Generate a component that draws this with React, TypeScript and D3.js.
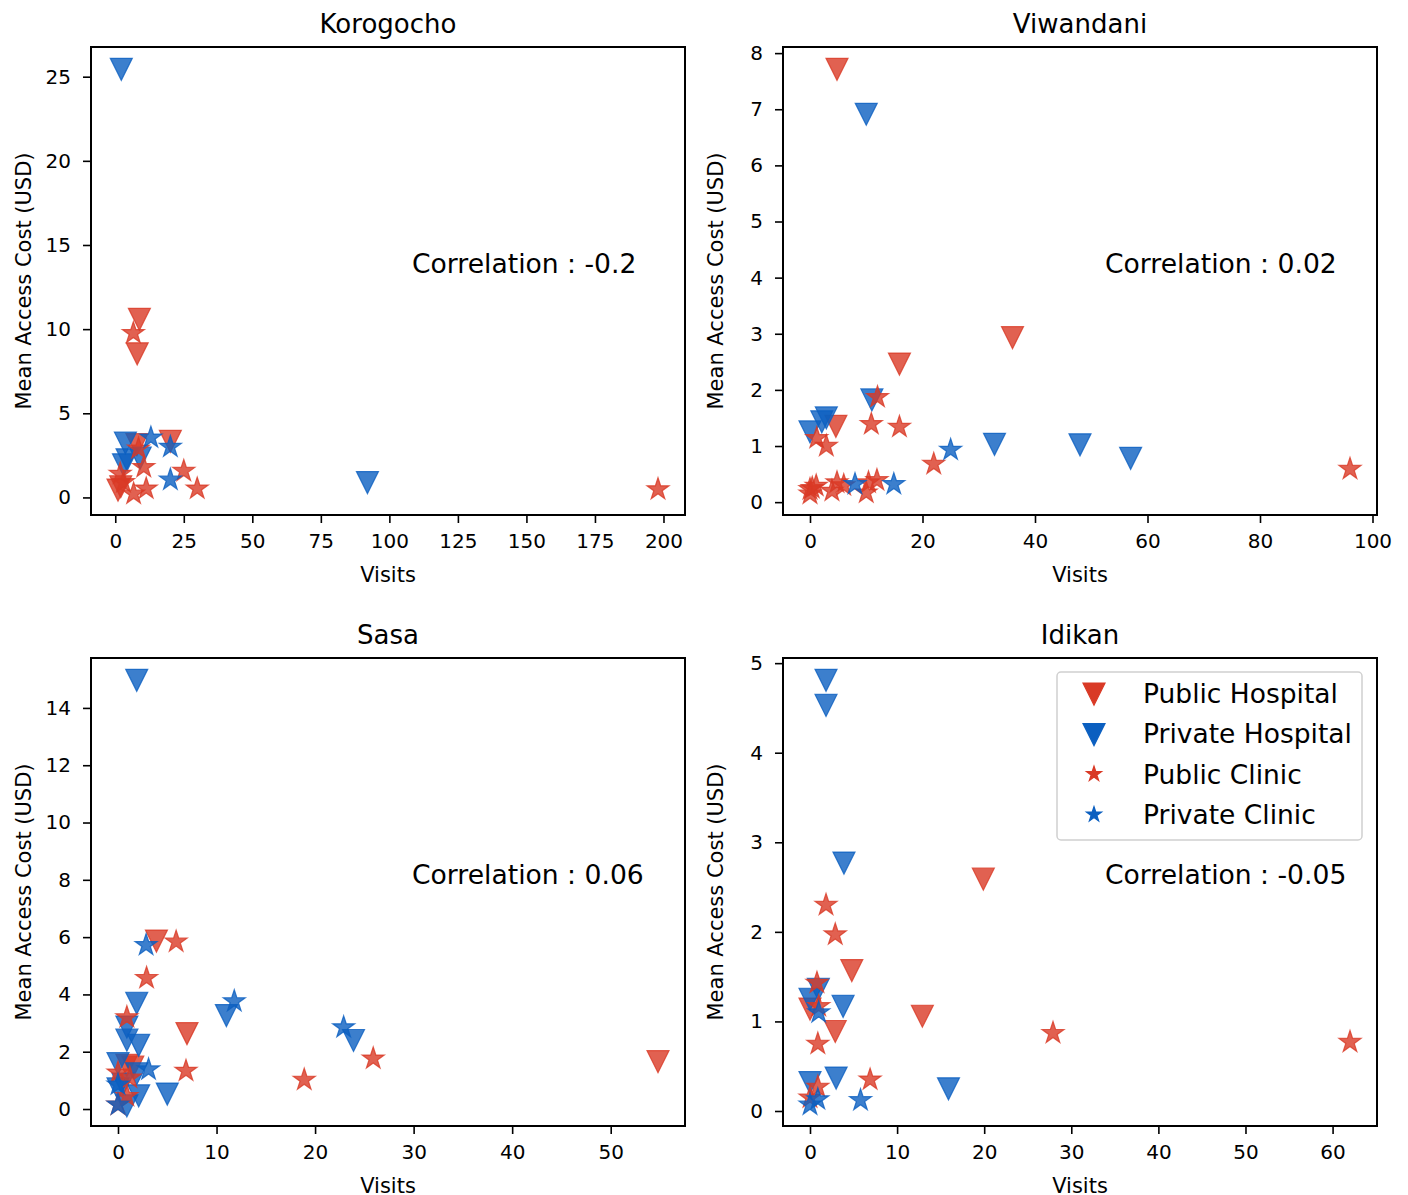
import React, { useEffect, useRef } from "react";
import * as d3 from "d3";

type Pt = [number, number];

// Korogocho
const koroPublicHospital: Pt[] = [[8.8, 10.65], [8, 8.6], [7.9, 3.2], [20.1, 3.4], [1, 0.5], [2, 0.7]];
const koroPrivateHospital: Pt[] = [[2.2, 25.5], [92, 0.95], [3.7, 3.3], [9.1, 2.4], [3, 2.0], [4.3, 2.3]];
const koroPublicClinic: Pt[] = [[6.6, 9.76], [198, 0.48], [8.5, 2.9], [10.4, 1.8], [25, 1.57], [29.9, 0.52], [3, 0.9], [6.7, 0.22], [11.3, 0.52], [1.8, 1.4]];
const koroPrivateClinic: Pt[] = [[13, 3.55], [20.1, 3.0], [20.1, 1.05]];

// Viwandani
const viwaPublicHospital: Pt[] = [[4.8, 7.73], [36, 2.95], [15.9, 2.48], [4.6, 1.37]];
const viwaPrivateHospital: Pt[] = [[10, 6.93], [11, 1.84], [0, 1.27], [2.1, 1.45], [2.9, 1.52], [32.8, 1.05], [48, 1.04], [57, 0.8]];
const viwaPublicClinic: Pt[] = [[12, 1.87], [1.2, 1.14], [2.9, 1.0], [10.9, 1.39], [15.9, 1.34], [22, 0.68], [96, 0.59], [0, 0.23], [0, 0.15], [0.4, 0.25], [1.1, 0.29], [3.9, 0.2], [4.8, 0.35], [10, 0.17], [10.4, 0.35], [11.9, 0.39], [6, 0.3]];
const viwaPrivateClinic: Pt[] = [[25, 0.93], [8, 0.32], [14.9, 0.32]];

// Sasa
const sasaPublicHospital: Pt[] = [[54.8, 1.69], [3.9, 5.9], [7, 2.67], [0.9, 1.56], [1.5, 1.5]];
const sasaPrivateHospital: Pt[] = [[1.9, 15.0], [23.9, 2.43], [11, 3.3], [1.9, 3.73], [5, 0.56], [0.9, 2.9], [0.9, 2.44], [2.1, 2.26], [0, 1.62], [1.9, 1.27], [2.1, 0.5], [0.9, 0.15], [0, 0.74], [0.5, 0.91]];
const sasaPublicClinic: Pt[] = [[25.9, 1.76], [18.9, 1.02], [5.9, 5.84], [2.9, 4.57], [6.9, 1.33], [0.9, 3.2], [0, 1.27], [0.9, 0.45], [1.2, 1.09], [0, 0.15]];
const sasaPrivateClinic: Pt[] = [[22.9, 2.85], [11.8, 3.76], [2.85, 5.72], [3.1, 1.38], [0, 0.15], [0, 0.85]];

// Idikan
const idikPublicHospital: Pt[] = [[19.9, 2.6], [4.8, 1.58], [12.9, 1.07], [2.9, 0.9], [0, 1.15]];
const idikPrivateHospital: Pt[] = [[1.84, 4.82], [1.84, 4.54], [3.9, 2.78], [3.8, 1.18], [3, 0.38], [15.9, 0.26], [0, 0.33], [0.96, 1.37], [0, 1.26]];
const idikPublicClinic: Pt[] = [[1.84, 2.3], [2.9, 1.97], [27.9, 0.87], [62, 0.77], [0.9, 0.75], [6.9, 0.35], [0.9, 0.27], [0, 0.15], [0.8, 1.43], [1, 1.17]];
const idikPrivateClinic: Pt[] = [[5.8, 0.12], [0.9, 0.13], [0, 0.07], [1, 1.1]];

const sites = ["Korogocho", "Viwandani", "Sasa", "Idikan"];
const correlations = ["-0.2", "0.02", "0.06", "-0.05"];
const categories = ["Public Hospital", "Private Hospital", "Public Clinic", "Private Clinic"];
const xTicks = [
  [0, 25, 50, 75, 100, 125, 150, 175, 200],
  [0, 20, 40, 60, 80, 100],
  [0, 10, 20, 30, 40, 50],
  [0, 10, 20, 30, 40, 50, 60],
];
const yTicks = [
  [0, 5, 10, 15, 20, 25],
  [0, 1, 2, 3, 4, 5, 6, 7, 8],
  [0, 2, 4, 6, 8, 10, 12, 14],
  [0, 1, 2, 3, 4, 5],
];
const seriesBySite: Pt[][][] = [
  [koroPublicHospital, koroPrivateHospital, koroPublicClinic, koroPrivateClinic],
  [viwaPublicHospital, viwaPrivateHospital, viwaPublicClinic, viwaPrivateClinic],
  [sasaPublicHospital, sasaPrivateHospital, sasaPublicClinic, sasaPrivateClinic],
  [idikPublicHospital, idikPrivateHospital, idikPublicClinic, idikPrivateClinic],
];

const RED = "#d93a26";
const BLUE = "#0b5fc0";
const catColor = [RED, BLUE, RED, BLUE];
const FONT = "DejaVu Sans, sans-serif";

const triPath = (h: number) => `M${-h},${-h * 0.9}L${h},${-h * 0.9}L0,${h * 1.1}Z`;
const starPath = (size: number) => d3.symbol().type(d3.symbolStar).size(size)()!;

const App = () => {
  const svgRef = useRef<SVGSVGElement>(null);

  useEffect(() => {
    const svg = d3.select(svgRef.current);
    svg.selectAll("*").remove();

    const colX = [91, 783];
    const rowY = [47, 658];
    const W = 594;
    const H = 468;

    sites.forEach((site, i) => {
      const left = colX[i % 2];
      const top = rowY[Math.floor(i / 2)];
      const series = seriesBySite[i];
      const all = series.flat();
      const [xmin, xmax] = d3.extent(all, (d) => d[0]) as [number, number];
      const [ymin, ymax] = d3.extent(all, (d) => d[1]) as [number, number];
      const mx = (xmax - xmin) * 0.05;
      const my = (ymax - ymin) * 0.05;
      const x = d3.scaleLinear().domain([xmin - mx, xmax + mx]).range([0, W]);
      const y = d3.scaleLinear().domain([ymin - my, ymax + my]).range([H, 0]);

      const g = svg.append("g").attr("transform", `translate(${left},${top})`);

      // points
      series.forEach((pts, c) => {
        const isTri = c < 2;
        g.append("g")
          .selectAll("path")
          .data(pts)
          .join("path")
          .attr("transform", (d) => `translate(${x(d[0])},${y(d[1])})`)
          .attr("d", isTri ? triPath(11) : starPath(150))
          .attr("fill", catColor[c])
          .attr("fill-opacity", 0.8)
          .attr("stroke", catColor[c])
          .attr("stroke-opacity", 0.8)
          .attr("stroke-width", 1.2);
      });

      const xAxis = g
        .append("g")
        .attr("transform", `translate(0,${H})`)
        .call(d3.axisBottom(x).tickValues(xTicks[i]).tickSize(8).tickPadding(11).tickFormat(d3.format("d")));
      const yAxis = g
        .append("g")
        .call(d3.axisLeft(y).tickValues(yTicks[i]).tickSize(8).tickPadding(12).tickFormat(d3.format("d")));
      [xAxis, yAxis].forEach((a) => {
        a.select(".domain").remove();
        a.selectAll("line").attr("stroke", "#000").attr("stroke-width", 1.6);
        a.selectAll("text").attr("font-family", FONT).attr("font-size", 20).attr("fill", "#000");
      });

      g.append("rect")
        .attr("width", W)
        .attr("height", H)
        .attr("fill", "none")
        .attr("stroke", "#000")
        .attr("stroke-width", 2);

      g.append("text")
        .attr("x", W / 2)
        .attr("y", -14)
        .attr("text-anchor", "middle")
        .attr("font-family", FONT)
        .attr("font-size", 26)
        .text(site);

      g.append("text")
        .attr("x", W / 2)
        .attr("y", H + 67)
        .attr("text-anchor", "middle")
        .attr("font-family", FONT)
        .attr("font-size", 21)
        .text("Visits");

      g.append("text")
        .attr("transform", `translate(${-60},${H / 2}) rotate(-90)`)
        .attr("text-anchor", "middle")
        .attr("font-family", FONT)
        .attr("font-size", 21)
        .text("Mean Access Cost (USD)");

      g.append("text")
        .attr("x", i % 2 === 0 ? 321 : 322)
        .attr("y", 226)
        .attr("font-family", FONT)
        .attr("font-size", 26.6)
        .text(`Correlation : ${correlations[i]}`);

      if (i === 3) {
        const lg = g.append("g").attr("transform", `translate(${1057 - left},${672 - top})`);
        lg.append("rect")
          .attr("width", 305)
          .attr("height", 168)
          .attr("rx", 4)
          .attr("fill", "#fff")
          .attr("fill-opacity", 0.8)
          .attr("stroke", "#d0d0d0")
          .attr("stroke-width", 1.5);
        categories.forEach((cat, c) => {
          const row = lg.append("g").attr("transform", `translate(0,${21 + c * 40.5})`);
          row.append("path")
            .attr("transform", "translate(37,0)")
            .attr("d", c < 2 ? triPath(11) : starPath(70))
            .attr("fill", catColor[c])
            .attr("stroke", catColor[c])
            .attr("stroke-width", 1.2);
          row.append("text")
            .attr("x", 86)
            .attr("y", 9.5)
            .attr("font-family", FONT)
            .attr("font-size", 26.5)
            .text(cat);
        });
      }
    });
  }, []);

  return (
    <div style={{ position: "absolute", left: 0, top: 0 }}>
      <svg ref={svgRef} width={1408} height={1195} style={{ display: "block", background: "#fff" }} />
    </div>
  );
};

export default App;
